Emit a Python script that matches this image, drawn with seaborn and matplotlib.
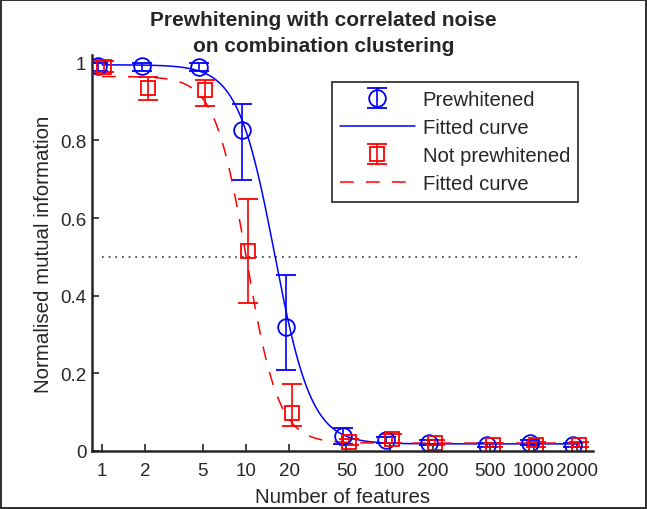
import numpy as np
import pandas as pd
import matplotlib
matplotlib.use("Agg")
import matplotlib.pyplot as plt
import seaborn as sns

# Data
features = [1, 2, 5, 10, 20, 50, 100, 200, 500, 1000, 2000]
tick_labels = ["1", "2", "5", "10", "20", "50", "100", "200", "500", "1000", "2000"]

pw_mean = [0.991, 0.993, 0.990, 0.828, 0.320, 0.038, 0.028, 0.021, 0.016, 0.021, 0.016]
pw_lower = [0.978, 0.978, 0.978, 0.699, 0.209, 0.018, 0.020, 0.015, 0.011, 0.015, 0.011]
pw_upper = [1.000, 1.000, 1.000, 0.895, 0.454, 0.059, 0.036, 0.027, 0.021, 0.027, 0.021]

npw_mean = [0.990, 0.934, 0.929, 0.515, 0.098, 0.023, 0.031, 0.021, 0.014, 0.016, 0.016]
npw_lower = [0.976, 0.903, 0.890, 0.381, 0.065, 0.016, 0.020, 0.014, 0.009, 0.010, 0.010]
npw_upper = [1.004, 0.963, 0.955, 0.650, 0.173, 0.030, 0.044, 0.028, 0.020, 0.022, 0.022]

# fitted sigmoid parameters (top, bottom, log10 midpoint, slope)
pw_fit = [0.995, 0.018, 1.20, 7.8]
npw_fit = [0.965, 0.020, 1.005, 9.0]


def sigmoid(x, params):
    top, bottom, mid, k = params
    return bottom + (top - bottom) / (1 + np.exp(k * (np.log10(x) - mid)))


sns.set_theme(style="ticks")
plt.rcParams['font.family'] = ['Liberation Sans', 'DejaVu Sans']

fig = plt.figure(figsize=(6.47, 5.10), dpi=100)
fig.patch.set_edgecolor("#333333")
fig.patch.set_linewidth(1.5)
ax = fig.add_axes([0.142, 0.114, 0.775, 0.776])

x = np.array(features, dtype=float)
xs = np.logspace(0, np.log10(2000), 400)
df_fit = pd.DataFrame({"x": xs, "pw": sigmoid(xs, pw_fit), "npw": sigmoid(xs, npw_fit)})

# dotted line at 0.5
ax.plot([1, 2000], [0.5, 0.5], linestyle=(0, (1, 3)), color="#333333", lw=1.2)

pw_m = np.array(pw_mean)
npw_m = np.array(npw_mean)
h1 = ax.errorbar(x / 1.06, pw_m, yerr=[pw_m - np.array(pw_lower), np.array(pw_upper) - pw_m],
                 fmt="o", color="blue", mfc="none", ms=12, mew=1.3, elinewidth=1.2,
                 capsize=7.5, capthick=1.2, label="Prewhitened")
l1, = ax.plot(df_fit["x"], df_fit["pw"], color="blue", lw=1.1, label="Fitted curve")
h2 = ax.errorbar(x * 1.04, npw_m, yerr=[npw_m - np.array(npw_lower), np.array(npw_upper) - npw_m],
                 fmt="s", color="red", mfc="none", ms=9.5, mew=1.3, elinewidth=1.2,
                 capsize=7.5, capthick=1.2, label="Not prewhitened")
sns.lineplot(data=df_fit, x="x", y="npw", ax=ax, color="red", lw=1.1,
             dashes=False, linestyle=(0, (9, 8)), label="Fitted curve")
l2 = ax.get_lines()[-1]

ax.set_xscale("log")
ax.set_xlim(0.85, 2600)
ax.set_ylim(0, 1.02)
ax.set_xticks(features)
ax.set_xticklabels(tick_labels)
ax.minorticks_off()
ax.set_yticks([0, 0.2, 0.4, 0.6, 0.8, 1])
ax.set_yticklabels(["0", "0.2", "0.4", "0.6", "0.8", "1"])
ax.tick_params(direction="in", length=5, width=1.2, labelsize=13.5, colors="#262626", pad=4)
ax.tick_params(axis="x", pad=8)
sns.despine(ax=ax)
for s in ["left", "bottom"]:
    ax.spines[s].set_linewidth(1.8)
    ax.spines[s].set_color("#262626")

ax.set_xlabel("Number of features", fontsize=14.8, color="#262626", labelpad=6)
ax.set_ylabel("Normalised mutual information", fontsize=14.8, color="#262626", labelpad=5)
fig.text(0.5, 0.934, "Prewhitening with correlated noise\non combination clustering",
         ha="center", va="center", fontsize=15, fontweight="bold", linespacing=1.45)

leg = ax.legend([h1, l1, h2, l2], ["Prewhitened", "Fitted curve", "Not prewhitened", "Fitted curve"],
                loc="upper right", bbox_to_anchor=(0.97, 0.932), borderaxespad=0, fontsize=14.6,
                frameon=True, fancybox=False, edgecolor="#262626", framealpha=1,
                handlelength=3.7, borderpad=0.4, labelspacing=0.45, handletextpad=0.4)
leg.get_frame().set_linewidth(1.2)

fig.savefig("out.png", dpi=100)
